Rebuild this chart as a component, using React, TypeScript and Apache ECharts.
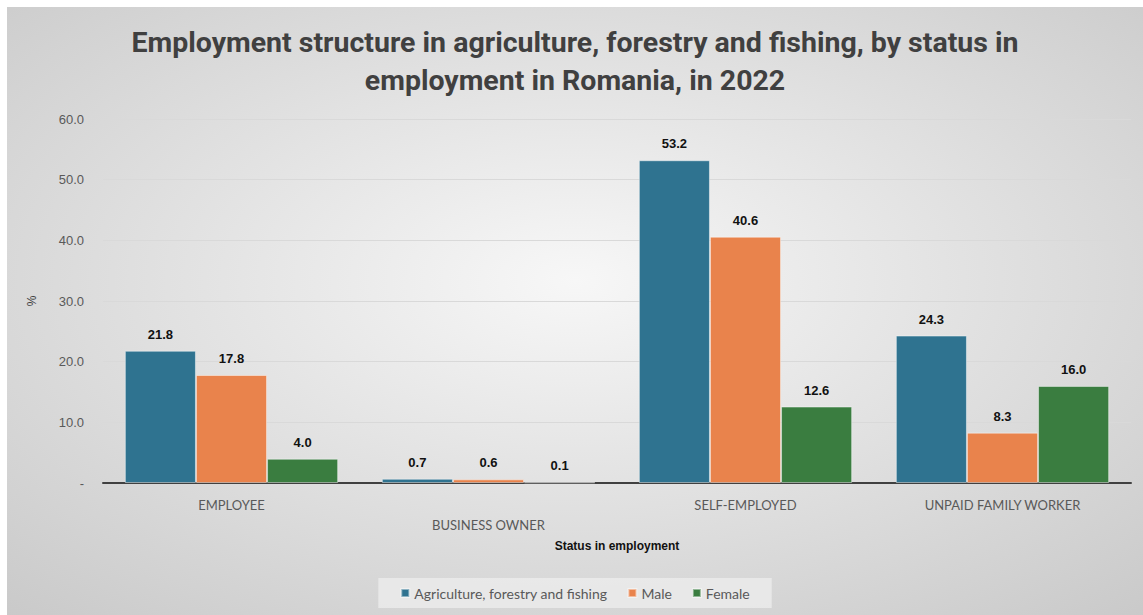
import React, { useEffect, useRef } from "react";
import * as echarts from "echarts";

const categories = ["EMPLOYEE", "BUSINESS OWNER", "SELF-EMPLOYED", "UNPAID FAMILY WORKER"];
const seriesNames = ["Agriculture, forestry and fishing", "Male", "Female"];
const agriculture = [21.8, 0.7, 53.2, 24.3];
const male = [17.8, 0.6, 40.6, 8.3];
const female = [4.0, 0.1, 12.6, 16.0];
const colors = ["#2F7390", "#E9834C", "#3A7D40"];
const titleText = "Employment structure in agriculture, forestry and fishing, by status in\nemployment in Romania, in 2022";

export default function App() {
  const ref = useRef<HTMLDivElement>(null);
  useEffect(() => {
    if (!ref.current) return;
    const chart = echarts.init(ref.current, null, { renderer: "svg" });
    const mk = (name: string, data: number[], color: string) => ({
      name,
      type: "bar",
      data,
      barGap: "0%",
      barCategoryGap: "17%",
      itemStyle: { color, borderColor: "rgba(255,255,255,0.45)", borderWidth: 1 },
      label: {
        show: true,
        position: "top",
        distance: 10,
        formatter: (p: any) => Number(p.value).toFixed(1),
        color: "#111",
        fontWeight: "bold",
        fontSize: 13,
        fontFamily: "Liberation Sans, Arial, sans-serif",
      },
    });
    chart.setOption({
      animation: false,
      backgroundColor: {
        type: "radial",
        x: 0.5,
        y: 0.45,
        r: 0.75,
        colorStops: [
          { offset: 0, color: "#f7f7f7" },
          { offset: 1, color: "#c9c9c9" },
        ],
      },
      title: {
        text: titleText,
        left: "center",
        top: 11,
        textStyle: {
          fontFamily: "Roboto, sans-serif",
          fontWeight: "bold",
          fontSize: 28.5,
          lineHeight: 38,
          color: "#404040",
        },
      },
      legend: {
        bottom: 7,
        left: "center",
        data: seriesNames,
        icon: "rect",
        itemWidth: 8,
        itemHeight: 8,
        itemGap: 20,
        padding: [8, 22],
        backgroundColor: "rgba(238,238,238,0.75)",
        textStyle: { color: "#595959", fontSize: 14, fontFamily: "Lato, sans-serif" },
      },
      grid: { left: 96, right: 12, top: 112, bottom: 132, containLabel: false },
      xAxis: {
        type: "category",
        data: categories,
        name: "Status in employment",
        nameLocation: "middle",
        nameGap: 57,
        nameTextStyle: { fontWeight: "bold", fontSize: 12, color: "#111", fontFamily: "Liberation Sans, Arial, sans-serif" },
        axisLine: { lineStyle: { color: "#404040", width: 2 } },
        axisTick: { show: false },
        axisLabel: {
          interval: 0,
          margin: 12,
          lineHeight: 20,
          color: "#595959",
          fontSize: 13,
          fontFamily: "Lato, sans-serif",
          formatter: (v: string, i: number) => (i === 1 ? "\n" + v : v),
        },
      },
      yAxis: {
        type: "value",
        min: 0,
        max: 60,
        interval: 10,
        name: "%",
        nameLocation: "middle",
        nameGap: 65,
        nameRotate: 90,
        nameTextStyle: { fontSize: 12, color: "#404040", fontFamily: "Liberation Sans, Arial, sans-serif" },
        axisLine: { show: false },
        axisTick: { show: false },
        axisLabel: {
          margin: 19,
          color: "#595959",
          fontSize: 13,
          fontFamily: "Liberation Sans, Arial, sans-serif",
          formatter: (v: number) => (v === 0 ? "-" : v.toFixed(1)),
        },
        splitLine: { lineStyle: { color: "#d9d9d9", width: 1 } },
      },
      series: [
        mk(seriesNames[0], agriculture, colors[0]),
        mk(seriesNames[1], male, colors[1]),
        mk(seriesNames[2], female, colors[2]),
      ],
    });
    return () => chart.dispose();
  }, []);
  return (
    <div
      ref={ref}
      style={{ position: "absolute", left: 7, top: 7, width: 1136, height: 608 }}
    />
  );
}
